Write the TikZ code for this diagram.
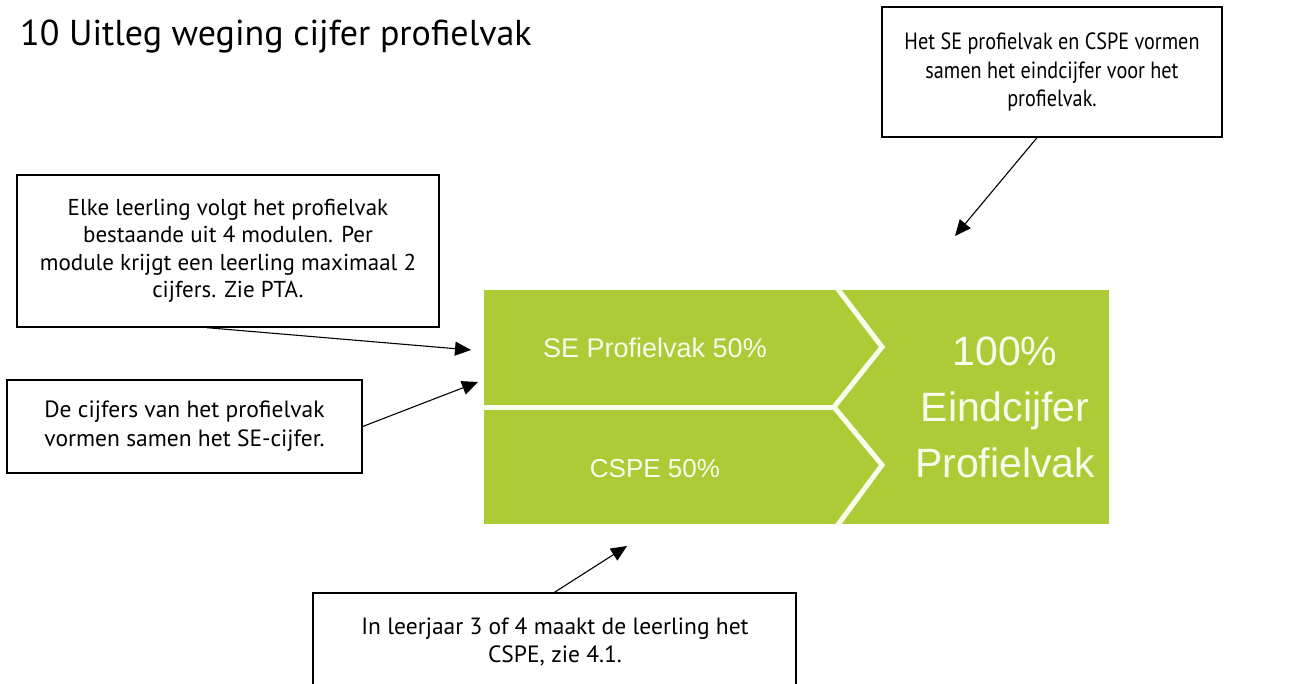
\documentclass[tikz,border=0pt]{standalone}
\usepackage{fontspec}
\setmainfont{PT Sans}
\newfontfamily\hfont{Liberation Sans}
\newfontfamily\condfont[FakeStretch=0.86]{PT Sans}
\usetikzlibrary{arrows.meta,calc}
\definecolor{lime}{RGB}{173,203,55}
\definecolor{offwhite}{RGB}{250,252,236}
\begin{document}
\begin{tikzpicture}[x=1pt,y=-1pt,
  callout/.style={draw=black,line width=1.4pt,inner sep=0pt,align=center,
    font=\fontsize{23}{27.5}\selectfont},
  pointer/.style={draw=black,line width=1.1pt,-{Triangle[length=16pt,width=14pt]}},
  sepline/.style={draw=offwhite,line width=5pt,line join=miter},
  gtext/.style={text=offwhite,align=center,inner sep=0pt}]
\useasboundingbox (0,0) rectangle (1314,684);
% title
\node[anchor=base west,inner sep=0pt,font=\fontsize{36}{42}\selectfont] (title) at (20,46) {10 Uitleg weging cijfer profielvak};
% green graphic
\fill[lime] (484,290) rectangle (1109,524);
\draw[sepline] (484,407) -- (834,407);
\draw[sepline] (837,288) -- (882,347) -- (834,407) -- (882,465) -- (837,526);
\node[gtext,font=\hfont\fontsize{27}{30}\selectfont,anchor=base] (se) at (655,358) {SE Profielvak 50\%};
\node[gtext,font=\hfont\fontsize{26}{30}\selectfont,anchor=base] (cspe) at (655,477) {CSPE 50\%};
\node[gtext,font=\hfont\fontsize{41}{56}\selectfont,anchor=base] (eind) at (1005,477) {100\%\\Eindcijfer\\Profielvak};
% callouts
\node[callout,minimum width=422pt,minimum height=152pt] (b1) at (228,251) {Elke leerling volgt het profielvak\\bestaande uit 4 modulen. Per\\module krijgt een leerling maximaal 2\\cijfers. Zie PTA.};
\node[callout,font=\fontsize{23.5}{29}\selectfont,minimum width=355pt,minimum height=93pt] (b2) at (184.5,426.5) {De cijfers van het profielvak\\vormen samen het SE-cijfer.};
\node[callout,font=\condfont\fontsize{23.5}{28.5}\selectfont,minimum width=340pt,minimum height=130pt] (b3) at (1052,72) {Het SE profielvak en CSPE vormen\\samen het eindcijfer voor het\\profielvak.};
\node[draw=black,line width=1.4pt,inner sep=0pt,minimum width=483pt,minimum height=127pt] (b4) at (554.5,656.5) {};
\node[align=center,inner sep=0pt,anchor=base,font=\fontsize{23.5}{27.5}\selectfont] (t4) at (555,662) {In leerjaar 3 of 4 maakt de leerling het\\CSPE, zie 4.1.};
% pointer tips
\coordinate (p1) at (471,350);
\coordinate (p2) at (478,382);
\coordinate (p3) at (955,236);
\coordinate (p4) at (627,546);
\draw[pointer] ([xshift=-21pt]b1.south) -- (p1);
\draw[pointer] (b2.east) -- (p2);
\draw[pointer] ([xshift=-15pt]b3.south) -- (p3);
\draw[pointer] (b4.north) -- (p4);
\end{tikzpicture}
\end{document}
